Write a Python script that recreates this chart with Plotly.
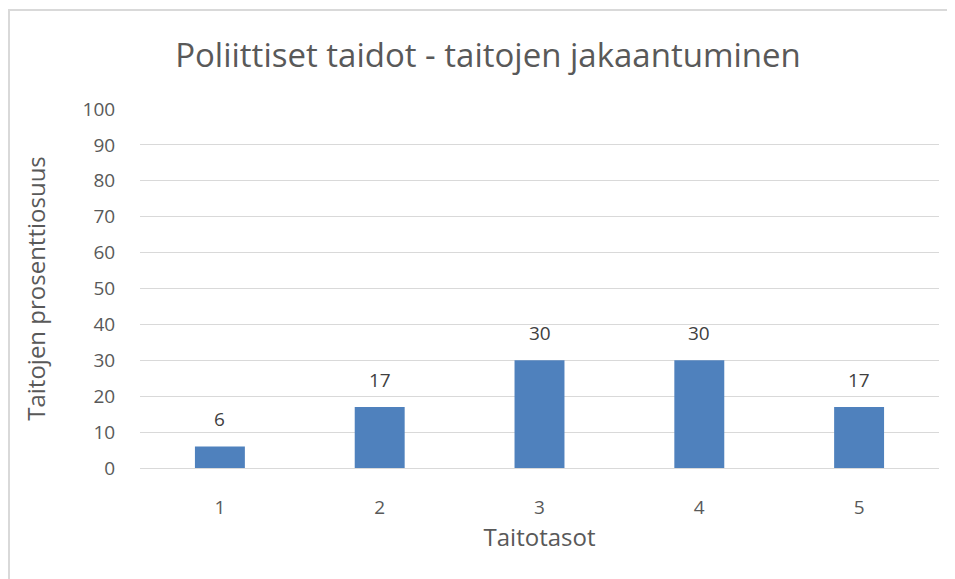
import plotly.graph_objects as go

# values
tasot = ["1", "2", "3", "4", "5"]
osuus = [6, 17, 30, 30, 17]

y_ticks = list(range(0, 101, 10))

# the page body has an 8px margin, so the figure is a bit smaller
OFF = 8
W, H = 955 - OFF, 579 - OFF
L, R, T, B = 140 - OFF, 16, 109 - OFF, 111
pw = W - L - R
ph = H - T - B


def px_x(x):
    return (x - L) / pw


def px_y(y):
    return (H - B - y) / ph


fig = go.Figure()
fig.add_trace(go.Bar(
    x=tasot,
    y=osuus,
    width=0.3125,
    marker=dict(color="#4f81bd", line=dict(width=0)),
    hoverinfo="x+y",
))

# value labels above the bars (category axis -> position by index)
for i, v in enumerate(osuus):
    fig.add_annotation(x=i, y=v, text=str(v), showarrow=False,
                       yanchor="bottom", yshift=12,
                       font=dict(size=19, color="#404040"))

font = "Open Sans, Noto Sans, sans-serif"

fig.update_layout(
    width=W, height=H,
    margin=dict(l=L, r=R, t=T, b=B),
    paper_bgcolor="white",
    plot_bgcolor="white",
    font=dict(family=font, color="#595959"),
    showlegend=False,
    title=dict(
        text="Poliittiset taidot - taitojen jakaantuminen",
        x=(488 - OFF) / W, xanchor="center",
        y=1 - (55 - OFF) / H, yanchor="middle",
        font=dict(size=33, color="#595959"),
    ),
    shapes=[
        dict(type="line", xref="paper", yref="paper",
             x0=px_x(0), x1=px_x(W + 5), y0=px_y(2), y1=px_y(2),
             line=dict(color="#d9d9d9", width=2)),
        dict(type="line", xref="paper", yref="paper",
             x0=px_x(1), x1=px_x(1), y0=px_y(2), y1=px_y(H + 5),
             line=dict(color="#d9d9d9", width=2)),
    ],
)

fig.update_xaxes(
    type="category",
    range=[-0.5, len(tasot) - 0.5],
    showgrid=False,
    showline=False,
    ticks="outside", ticklen=22, tickcolor="rgba(0,0,0,0)",
    tickfont=dict(size=19, color="#595959"),
    title=dict(text="Taitotasot", font=dict(size=24, color="#595959"), standoff=10),
)

fig.update_yaxes(
    range=[0, 100],
    tickvals=y_ticks,
    showgrid=True, gridcolor="#d9d9d9", gridwidth=1,
    zeroline=True, zerolinecolor="#d9d9d9", zerolinewidth=1,
    showline=False,
    ticks="outside", ticklen=20, tickcolor="rgba(0,0,0,0)",
    tickfont=dict(size=19, color="#595959"),
    title=dict(text="Taitojen prosenttiosuus", font=dict(size=24, color="#595959"), standoff=30),
)

fig.write_html("out.html")
